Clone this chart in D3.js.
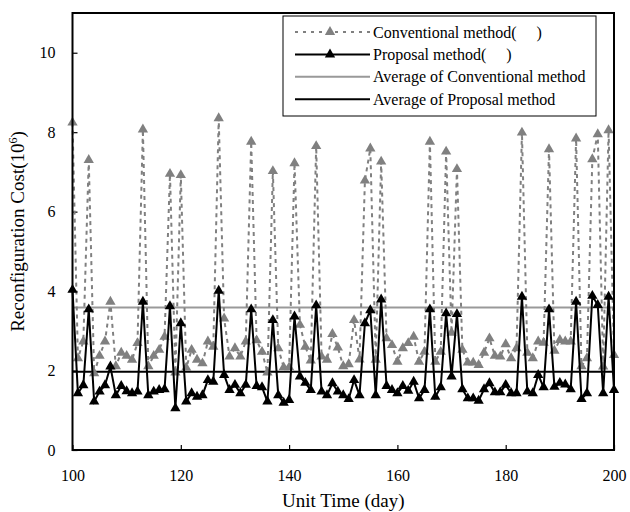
<!DOCTYPE html>
<html>
<head>
<meta charset="utf-8">
<script src="https://cdn.jsdelivr.net/npm/d3@7"></script>
<style>
  body { margin: 0; background: #fff; }
  text { font-family: "Liberation Serif", "Times New Roman", serif; }
</style>
</head>
<body>
<div id="canvas"></div>
<script>
// days 100..200
var days = d3.range(100, 201);

var conventional = [
  8.24, 2.31, 2.73, 7.30, 1.93, 2.37, 2.73, 3.73, 2.11, 2.45,
  2.37, 2.27, 2.69, 8.07, 2.11, 2.37, 2.52, 2.85, 6.95, 1.95,
  6.92, 2.07, 2.52, 2.27, 2.18, 2.73, 2.60, 8.35, 3.31, 2.35,
  2.56, 2.35, 2.73, 7.76, 2.76, 2.47, 1.95, 7.02, 2.56, 2.08,
  2.08, 7.22, 3.15, 2.60, 2.25, 7.65, 2.35, 2.27, 2.92, 2.58,
  2.11, 2.16, 3.27, 2.28, 6.78, 7.59, 2.27, 7.26, 2.81, 2.64,
  2.22, 2.56, 2.69, 2.85, 2.22, 2.47, 7.76, 2.22, 2.47, 7.51,
  2.95, 7.07, 2.52, 2.20, 2.20, 2.14, 2.45, 2.81, 2.37, 2.35,
  2.66, 2.31, 2.56, 7.99, 2.45, 2.31, 2.73, 2.70, 7.57, 2.50,
  2.77, 2.73, 2.73, 7.84, 2.11, 2.31, 7.32, 7.95, 2.10, 8.05,
  2.39
];

var proposal = [
  4.03, 1.43, 1.63, 3.54, 1.22, 1.47, 1.63, 2.10, 1.38, 1.61,
  1.48, 1.43, 1.47, 3.73, 1.38, 1.47, 1.51, 1.53, 3.62, 1.05,
  3.19, 1.22, 1.43, 1.34, 1.38, 1.76, 1.72, 4.01, 1.89, 1.51,
  1.64, 1.43, 1.64, 3.54, 1.61, 1.58, 1.22, 3.27, 1.38, 1.19,
  1.26, 3.36, 1.85, 1.69, 1.51, 3.64, 1.47, 1.38, 1.68, 1.47,
  1.38, 1.28, 1.76, 1.38, 3.19, 3.52, 1.38, 3.79, 1.61, 1.51,
  1.43, 1.61, 1.49, 1.72, 1.30, 1.51, 3.54, 1.34, 1.58, 3.44,
  1.85, 3.42, 1.53, 1.30, 1.30, 1.24, 1.53, 1.68, 1.45, 1.45,
  1.64, 1.43, 1.43, 3.86, 1.47, 1.43, 1.89, 1.58, 3.54, 1.59,
  1.69, 1.65, 1.53, 3.73, 1.28, 1.43, 3.88, 3.65, 1.43, 3.86,
  1.51
];

var avgConventional = 3.59,
    avgProposal = 1.97;

var xTicks = [100, 120, 140, 160, 180, 200],
    yTicks = [0, 2, 4, 6, 8, 10];

var legendLabels = [
  'Conventional method(\u2003 )',
  'Proposal method(\u2003 )',
  'Average of Conventional method',
  'Average of Proposal method'
];

// canvas and margins
var W = 630, H = 512;
var m = {t:13, r:16, b:62, l:72.5},
    w = W - m.l - m.r,
    h = H - m.t - m.b;

var svg = d3.select('#canvas').append('svg')
    .attr('width', W)
    .attr('height', H);

var plot = svg.append('g')
    .attr('transform', 'translate(' + m.l + ',' + m.t + ')');

var x = d3.scaleLinear().domain([100, 200]).range([0, w]);
var y = d3.scaleLinear().domain([0, 11]).range([h, 0]);

var grey = '#808080';

// axes with inner ticks
var xAxis = plot.append('g')
    .attr('transform', 'translate(0,' + h + ')')
    .call(d3.axisBottom(x).tickValues(xTicks).tickSize(-5).tickPadding(20).tickFormat(d3.format('d')));
var yAxis = plot.append('g')
    .call(d3.axisLeft(y).tickValues(yTicks).tickSize(-5).tickPadding(17).tickFormat(d3.format('d')));

[xAxis, yAxis].forEach(function(a){
  a.select('.domain').remove();
  a.selectAll('line').attr('stroke', '#000').attr('stroke-width', 1.2);
  a.selectAll('text')
    .attr('font-family', '"Liberation Serif", serif')
    .attr('font-size', 16)
    .attr('fill', '#000');
});
xAxis.selectAll('text').attr('dy', '0.71em');

// average lines
plot.append('line')
    .attr('x1', 0).attr('x2', w)
    .attr('y1', y(avgConventional)).attr('y2', y(avgConventional))
    .attr('stroke', '#999').attr('stroke-width', 2);
plot.append('line')
    .attr('x1', 0).attr('x2', w)
    .attr('y1', y(avgProposal)).attr('y2', y(avgProposal))
    .attr('stroke', '#000').attr('stroke-width', 2);

var line = d3.line()
    .x(function(d){ return x(d.day); })
    .y(function(d){ return y(d.v); });

var convData = days.map(function(d, i){ return {day: d, v: conventional[i]}; });
var propData = days.map(function(d, i){ return {day: d, v: proposal[i]}; });

var tri = d3.symbol().type(d3.symbolTriangle).size(46);

// conventional series
plot.append('path')
    .datum(convData)
    .attr('d', line)
    .attr('fill', 'none')
    .attr('stroke', grey)
    .attr('stroke-width', 2)
    .attr('stroke-dasharray', '4,4');
plot.selectAll('.convPt')
    .data(convData)
    .enter().append('path').attr('class', 'convPt')
    .attr('d', tri)
    .attr('transform', function(d){ return 'translate(' + x(d.day) + ',' + y(d.v) + ')'; })
    .attr('fill', grey);

// proposal series
plot.append('path')
    .datum(propData)
    .attr('d', line)
    .attr('fill', 'none')
    .attr('stroke', '#000')
    .attr('stroke-width', 2);
plot.selectAll('.propPt')
    .data(propData)
    .enter().append('path').attr('class', 'propPt')
    .attr('d', tri)
    .attr('transform', function(d){ return 'translate(' + x(d.day) + ',' + y(d.v) + ')'; })
    .attr('fill', '#000');

// frame
plot.append('rect')
    .attr('x', 0).attr('y', 0)
    .attr('width', w).attr('height', h)
    .attr('fill', 'none')
    .attr('stroke', '#000')
    .attr('stroke-width', 2);

// legend
var lg = svg.append('g').attr('transform', 'translate(283,16)');
lg.append('rect')
    .attr('width', 313).attr('height', 100)
    .attr('fill', '#fff')
    .attr('stroke', '#000')
    .attr('stroke-width', 1);

var legendStyles = [
  {stroke: grey, dash: '3,5', marker: grey},
  {stroke: '#000', dash: null, marker: '#000'},
  {stroke: '#999', dash: null, marker: null},
  {stroke: '#000', dash: null, marker: null}
];

legendLabels.forEach(function(label, i){
  var ry = 16 + i * 22.4;
  var s = legendStyles[i];
  lg.append('line')
      .attr('x1', 12).attr('x2', 87)
      .attr('y1', ry).attr('y2', ry)
      .attr('stroke', s.stroke)
      .attr('stroke-width', 2)
      .attr('stroke-dasharray', s.dash);
  if (s.marker) {
    lg.append('path')
        .attr('d', tri)
        .attr('transform', 'translate(47,' + ry + ')')
        .attr('fill', s.marker);
  }
  lg.append('text')
      .attr('x', 90).attr('y', ry)
      .attr('dy', '0.35em')
      .attr('font-size', 16)
      .attr('fill', '#000')
      .text(label);
});

// axis titles
svg.append('text')
    .attr('x', m.l + w / 2).attr('y', 507)
    .attr('text-anchor', 'middle')
    .attr('font-size', 19)
    .text('Unit Time (day)');

var yt = svg.append('text')
    .attr('transform', 'translate(24,' + (m.t + h / 2) + ') rotate(-90)')
    .attr('text-anchor', 'middle')
    .attr('font-size', 19);
yt.append('tspan').text('Reconfiguration Cost(10');
yt.append('tspan').attr('baseline-shift', 'super').attr('font-size', 12).text('6');
yt.append('tspan').text(')');
</script>
</body>
</html>
